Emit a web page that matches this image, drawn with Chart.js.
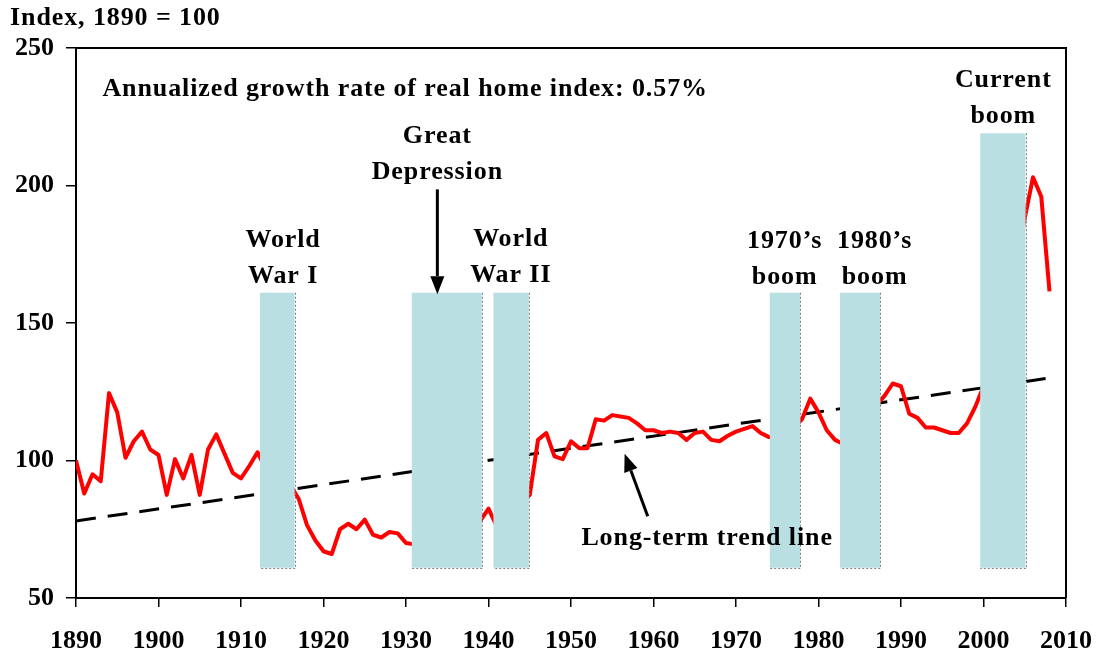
<!DOCTYPE html>
<html>
<head>
<meta charset="utf-8">
<script src="https://cdn.jsdelivr.net/npm/chart.js@4"></script>
<style>
  html, body { margin: 0; padding: 0; background: #fff; }
  #wrap { width: 1100px; height: 658px; }
</style>
</head>
<body>
<div id="wrap"><canvas id="homeChart"></canvas></div>
<script>
// real home price index, 1890 = 100
const years = [
  1890, 1891, 1892, 1893, 1894, 1895, 1896, 1897, 1898, 1899,
  1900, 1901, 1902, 1903, 1904, 1905, 1906, 1907, 1908, 1909,
  1910, 1911, 1912, 1913, 1914, 1915, 1916, 1917, 1918, 1919,
  1920, 1921, 1922, 1923, 1924, 1925, 1926, 1927, 1928, 1929,
  1930, 1931, 1932, 1933, 1934, 1935, 1936, 1937, 1938, 1939,
  1940, 1941, 1942, 1943, 1944, 1945, 1946, 1947, 1948, 1949,
  1950, 1951, 1952, 1953, 1954, 1955, 1956, 1957, 1958, 1959,
  1960, 1961, 1962, 1963, 1964, 1965, 1966, 1967, 1968, 1969,
  1970, 1971, 1972, 1973, 1974, 1975, 1976, 1977, 1978, 1979,
  1980, 1981, 1982, 1983, 1984, 1985, 1986, 1987, 1988, 1989,
  1990, 1991, 1992, 1993, 1994, 1995, 1996, 1997, 1998, 1999,
  2000, 2001, 2002, 2003, 2004, 2005, 2006, 2007, 2008
];
const homeIndex = [
  100, 88, 95, 92.5, 124.5, 117.5, 101, 107, 110.5, 104,
  102, 87.5, 100.5, 93.5, 102, 87.5, 104, 109.5, 102.5, 95.5,
  93.5, 98, 103, 97, 95, 93, 91, 86, 76.5, 71,
  67, 66, 75, 77, 75, 78.5, 73, 72, 74, 73.5,
  70, 69.5, 67, 66, 69, 71, 73, 74, 76, 78,
  82.5, 76, 79, 82, 85, 87.5, 107.5, 110, 101.5, 100.5,
  107, 104.5, 104.5, 115, 114.5, 116.5, 116, 115.5, 113.5, 111,
  111, 110, 110.5, 110, 107.5, 110, 110.5, 107.5, 107, 109,
  110.5, 111.5, 112.5, 110, 108.5, 108, 110, 112, 115, 122.5,
  117.5, 111, 107.5, 106, 108, 111, 115, 120, 123.5, 128,
  127, 117, 115.5, 112, 112, 111, 110, 110, 113.5, 119.5,
  127, 136, 146, 158, 172, 188, 203, 196, 161.5
];
const trendYears = [1890, 2008];
const trendValues = [78, 130];

const periodNames = [
  ['World', 'War I'], ['Great', 'Depression'], ['World', 'War II'],
  ['1970\u2019s', 'boom'], ['1980\u2019s', 'boom'], ['Current', 'boom']
];
const periodStart = [1912.3, 1930.7, 1940.6, 1974.1, 1982.6, 1999.6];
const periodEnd = [1916.5, 1939.2, 1944.9, 1977.8, 1987.5, 2005.1];
const periodTop = [161, 161, 161, 161, 161, 219];
const periodBottom = 61;

const xTicks = [1890, 1900, 1910, 1920, 1930, 1940, 1950, 1960, 1970, 1980, 1990, 2000, 2010];
const yTicks = [50, 100, 150, 200, 250];

const growthNote = 'Annualized growth rate of real home index: 0.57%';
const trendNote = 'Long-term trend line';
const axisNote = 'Index, 1890 = 100';

// where the notes sit, in data units (year, index)
const labelAt = [
  [1915.1, 180], [1933.8, 217.8], [1942.7, 180.4],
  [1975.9, 179.7], [1986.8, 179.7], [2002.4, 238.4]
];
const growthAt = [1893.2, 235.1];
const trendNoteAt = [1966.5, 71.7];
const depressionArrow = [[1933.8, 198.6], [1933.8, 160.5]];
const trendArrow = [[1959.3, 79.7], [1956.5, 102.5]];

const serif = '"Liberation Serif", "Times New Roman", serif';

function arrow(ctx, x1, y1, x2, y2) {
  const ang = Math.atan2(y2 - y1, x2 - x1);
  const len = 18, half = 7;
  const bx = x2 - Math.cos(ang) * len, by = y2 - Math.sin(ang) * len;
  ctx.lineWidth = 3;
  ctx.beginPath();
  ctx.moveTo(x1, y1);
  ctx.lineTo(bx, by);
  ctx.stroke();
  ctx.beginPath();
  ctx.moveTo(x2, y2);
  ctx.lineTo(bx + Math.sin(ang) * half, by - Math.cos(ang) * half);
  ctx.lineTo(bx - Math.sin(ang) * half, by + Math.cos(ang) * half);
  ctx.closePath();
  ctx.fill();
}

const overlay = {
  id: 'overlay',
  afterDatasetsDraw(chart) {
    const { ctx, scales: { x, y } } = chart;
    ctx.save();
    periodStart.forEach((s, i) => {
      const l = x.getPixelForValue(s);
      const r = x.getPixelForValue(periodEnd[i]);
      const t = y.getPixelForValue(periodTop[i]);
      const b = y.getPixelForValue(periodBottom);
      ctx.fillStyle = '#BADFE2';
      ctx.fillRect(l, t, r - l, b - t);
      ctx.strokeStyle = '#808080';
      ctx.lineWidth = 1;
      ctx.setLineDash([2, 2]);
      ctx.beginPath();
      ctx.moveTo(Math.round(r) + 0.5, t);
      ctx.lineTo(Math.round(r) + 0.5, Math.round(b) + 0.5);
      ctx.lineTo(l, Math.round(b) + 0.5);
      ctx.stroke();
    });
    ctx.restore();
  },
  afterDraw(chart) {
    const { ctx, chartArea: a, scales: { x, y } } = chart;
    ctx.save();
    // frame top and right
    ctx.strokeStyle = '#000';
    ctx.lineWidth = 2;
    ctx.beginPath();
    ctx.moveTo(a.left, a.top);
    ctx.lineTo(a.right, a.top);
    ctx.lineTo(a.right, a.bottom);
    ctx.stroke();

    ctx.fillStyle = '#000';
    ctx.font = 'bold 26px ' + serif;
    ctx.letterSpacing = '0.9px';
    ctx.textBaseline = 'middle';

    ctx.textAlign = 'left';
    ctx.fillText(axisNote, 10, 18);
    ctx.fillText(growthNote, x.getPixelForValue(growthAt[0]), y.getPixelForValue(growthAt[1]));

    ctx.textAlign = 'center';
    periodNames.forEach((lines, i) => {
      const px = x.getPixelForValue(labelAt[i][0]);
      const py = y.getPixelForValue(labelAt[i][1]);
      lines.forEach((t, k) => ctx.fillText(t, px, py + k * 36));
    });
    ctx.fillText(trendNote, x.getPixelForValue(trendNoteAt[0]), y.getPixelForValue(trendNoteAt[1]));

    ctx.strokeStyle = '#000';
    [depressionArrow, trendArrow].forEach(p => {
      arrow(ctx, x.getPixelForValue(p[0][0]), y.getPixelForValue(p[0][1]),
        x.getPixelForValue(p[1][0]), y.getPixelForValue(p[1][1]));
    });
    ctx.restore();
  }
};

const ctx = document.getElementById('homeChart').getContext('2d');
new Chart(ctx, {
  type: 'line',
  data: {
    datasets: [{
      data: years.map((yr, i) => ({ x: yr, y: homeIndex[i] })),
      borderColor: '#FF0000',
      borderWidth: 4,
      pointRadius: 0,
      tension: 0,
      borderJoinStyle: 'round'
    }, {
      data: trendYears.map((yr, i) => ({ x: yr, y: trendValues[i] })),
      borderColor: '#000000',
      borderWidth: 3,
      borderDash: [20, 12],
      pointRadius: 0
    }]
  },
  options: {
    responsive: true,
    maintainAspectRatio: false,
    animation: false,
    layout: { padding: { top: 48, right: 34, left: 0, bottom: 0 } },
    plugins: { legend: { display: false }, tooltip: { enabled: false } },
    scales: {
      x: {
        type: 'linear',
        min: 1890,
        max: 2010,
        afterBuildTicks: s => { s.ticks = xTicks.map(v => ({ value: v })); },
        afterFit: s => { s.height = 60; s.paddingLeft = 0; s.paddingRight = 0; },
        ticks: {
          color: '#000',
          font: { family: serif, weight: 'bold', size: 26 },
          padding: 19,
          maxRotation: 0,
          callback: v => String(v)
        },
        grid: { drawOnChartArea: false, drawTicks: true, tickLength: 9, color: '#000', lineWidth: 1.5 },
        border: { color: '#000', width: 2 }
      },
      y: {
        min: 50,
        max: 250,
        afterBuildTicks: s => { s.ticks = yTicks.map(v => ({ value: v })); },
        afterFit: s => { s.width = 76; s.paddingTop = 0; s.paddingBottom = 0; },
        ticks: {
          color: '#000',
          font: { family: serif, weight: 'bold', size: 26 },
          padding: 12,
          callback: v => String(v)
        },
        grid: { drawOnChartArea: false, drawTicks: true, tickLength: 10, color: '#000', lineWidth: 1.5 },
        border: { color: '#000', width: 2 }
      }
    }
  },
  plugins: [overlay]
});
</script>
</body>
</html>
